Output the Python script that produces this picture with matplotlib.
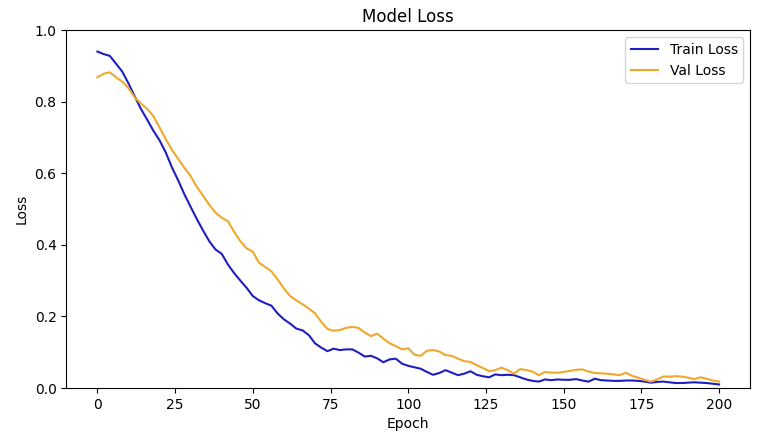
import numpy as np
from matplotlib import pyplot as plt

# values read every 2 epochs
epochs = np.arange(0, 201, 2)

train_loss = [0.940, 0.933, 0.928, 0.906, 0.884, 0.851, 0.815, 0.780, 0.750, 0.719,
              0.692, 0.658, 0.616, 0.580, 0.541, 0.506, 0.472, 0.440, 0.410, 0.387,
              0.375, 0.345, 0.321, 0.300, 0.280, 0.257, 0.245, 0.237, 0.230, 0.208,
              0.192, 0.180, 0.166, 0.161, 0.148, 0.125, 0.113, 0.103, 0.110, 0.106,
              0.108, 0.108, 0.099, 0.088, 0.090, 0.083, 0.072, 0.080, 0.082, 0.068,
              0.062, 0.058, 0.054, 0.045, 0.037, 0.042, 0.050, 0.043, 0.036, 0.040,
              0.047, 0.037, 0.033, 0.030, 0.038, 0.036, 0.037, 0.036, 0.030, 0.024,
              0.020, 0.018, 0.024, 0.022, 0.024, 0.023, 0.023, 0.025, 0.021, 0.018,
              0.026, 0.022, 0.021, 0.020, 0.020, 0.021, 0.021, 0.020, 0.018, 0.015,
              0.017, 0.018, 0.016, 0.014, 0.014, 0.015, 0.016, 0.015, 0.014, 0.012,
              0.010]

val_loss = [0.868, 0.878, 0.882, 0.868, 0.856, 0.838, 0.812, 0.795, 0.780, 0.760,
            0.728, 0.695, 0.665, 0.640, 0.615, 0.592, 0.562, 0.537, 0.512, 0.490,
            0.476, 0.466, 0.436, 0.410, 0.390, 0.381, 0.350, 0.338, 0.326, 0.303,
            0.278, 0.257, 0.245, 0.234, 0.222, 0.209, 0.185, 0.165, 0.160, 0.162,
            0.168, 0.171, 0.168, 0.155, 0.145, 0.152, 0.138, 0.125, 0.117, 0.108,
            0.111, 0.093, 0.090, 0.104, 0.106, 0.102, 0.092, 0.090, 0.082, 0.075,
            0.073, 0.064, 0.056, 0.047, 0.050, 0.057, 0.050, 0.040, 0.053, 0.050,
            0.046, 0.036, 0.045, 0.043, 0.043, 0.045, 0.048, 0.051, 0.052, 0.046,
            0.042, 0.041, 0.040, 0.038, 0.036, 0.043, 0.034, 0.029, 0.023, 0.018,
            0.024, 0.032, 0.032, 0.033, 0.032, 0.029, 0.025, 0.030, 0.026, 0.021,
            0.018]

fig = plt.figure(figsize=(7.71, 4.36), dpi=100)
plt.subplots_adjust(left=0.086, right=0.973, top=0.931, bottom=0.110)

plt.plot(epochs, train_loss, color='#1f1fc0', label='Train Loss')
plt.plot(epochs, val_loss, color='#f0a82c', label='Val Loss')
plt.title('Model Loss')
plt.xlabel('Epoch')
plt.ylabel('Loss')
plt.ylim(0, 1.0)
plt.legend(loc='upper right')

plt.savefig('out.png', dpi=100)
